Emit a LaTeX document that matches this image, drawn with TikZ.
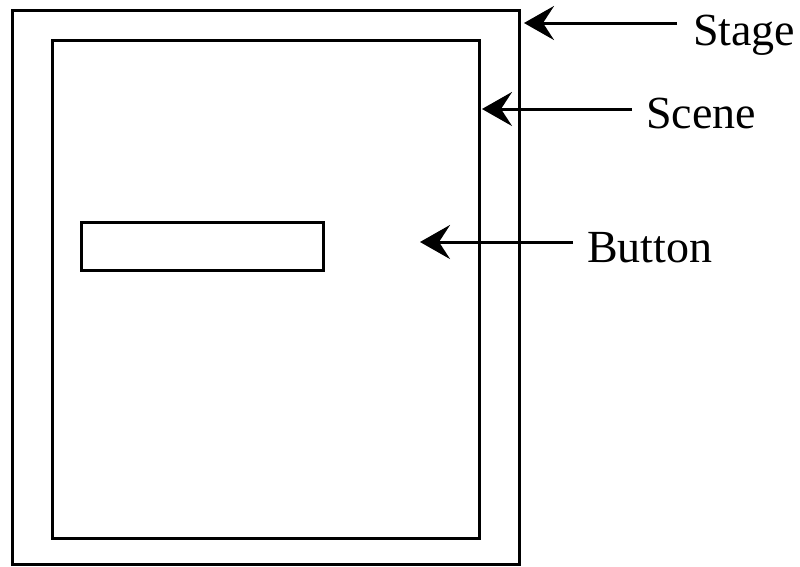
\documentclass[tikz,border=0pt]{standalone}
\usepackage{fontspec}
\setmainfont{Liberation Serif}
\usetikzlibrary{arrows.meta}
\begin{document}
\begin{tikzpicture}[x=1pt,y=-1pt,
  box/.style={draw=black,line width=3pt,minimum width=#1,inner sep=0pt},
  lbl/.style={font=\fontsize{46}{50}\selectfont,anchor=base west,inner sep=0pt},
  arr/.style={line width=3pt,-{Stealth[length=30pt,width=34pt,inset=11pt]}}]
\useasboundingbox (0,0) rectangle (800,566);
\node[box=507pt,minimum height=554pt] (stagebox) at (265.5,287) {};
\node[box=427pt,minimum height=498pt] (scenebox) at (265.5,289) {};
\node[box=242pt,minimum height=48pt] (buttonbox) at (202,246) {};
\node[lbl] (stage) at (693,45) {Stage};
\node[lbl] (scene) at (646,128) {Scene};
\node[lbl] (button) at (587,262) {Button};
\coordinate (stagetip) at (524,23);
\coordinate (scenetip) at (482,109);
\coordinate (buttontip) at (420,242);
\draw[arr] ([xshift=-16pt]stage.west |- stagetip) -- (stagetip);
\draw[arr] ([xshift=-14pt]scene.west |- scenetip) -- (scenetip);
\draw[arr] ([xshift=-14pt]button.west |- buttontip) -- (buttontip);
\end{tikzpicture}
\end{document}
